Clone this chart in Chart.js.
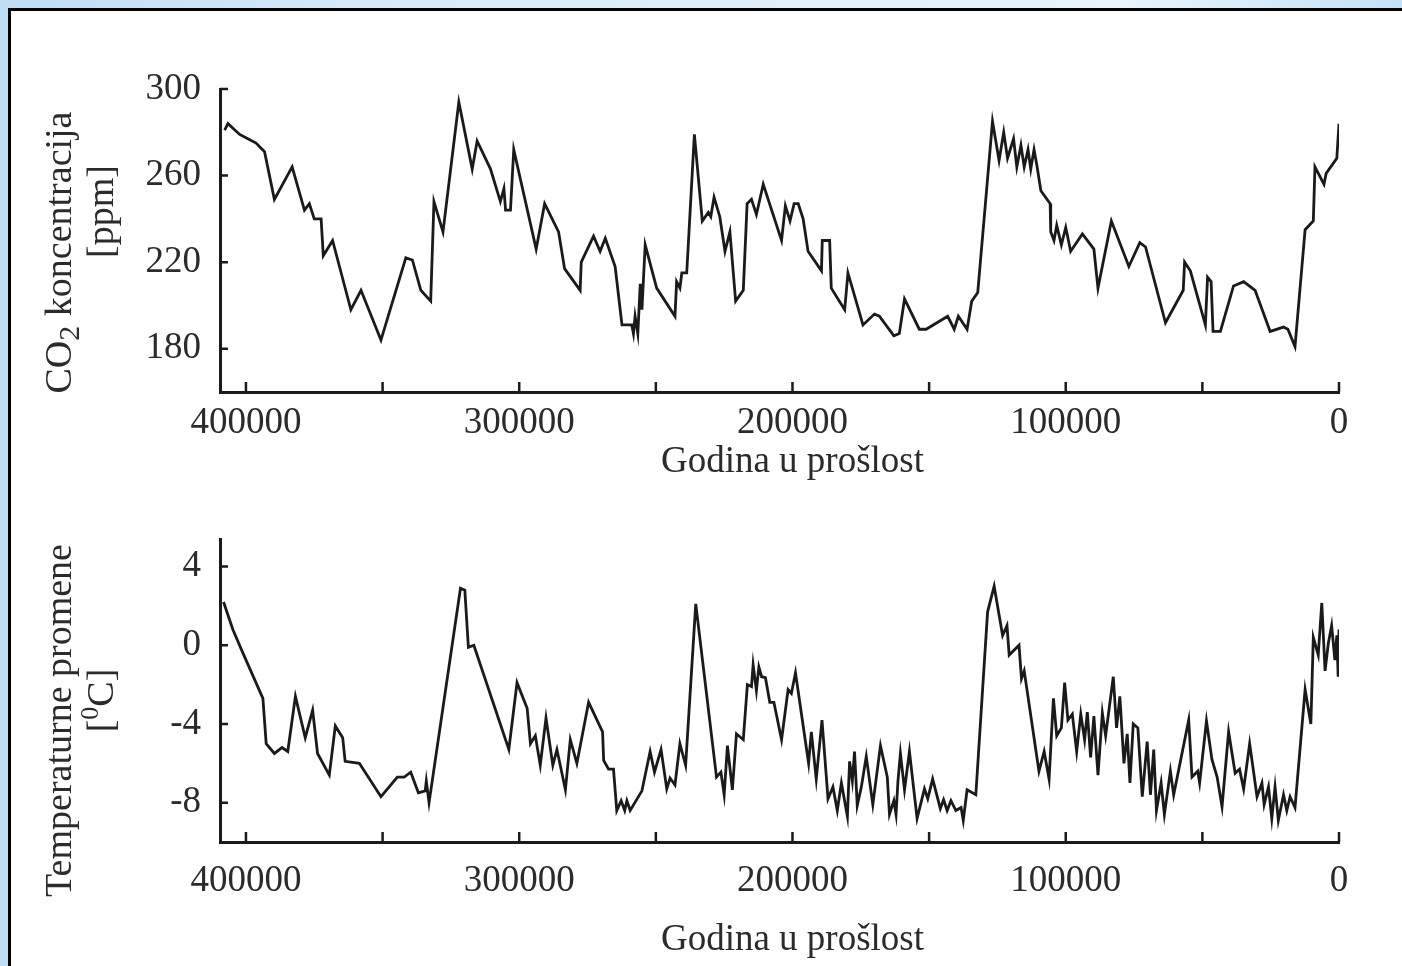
<!DOCTYPE html>
<html lang="sr">

<head>
    <meta charset="UTF-8">
    <title>CO2 koncentracija i temperaturne promene</title>
    <style>
        html,
        body {
            margin: 0;
            padding: 0;
        }

        body {
            width: 1402px;
            height: 966px;
            overflow: hidden;
            position: relative;
            background: linear-gradient(90deg, #bfdcf5 0%, #d6eaf9 25%, #e9f4fc 80%, #c4e1f7 100%);
        }

        .frame {
            position: absolute;
            left: 8px;
            top: 8px;
            width: 1420px;
            height: 980px;
            background: #fff;
            border-top: 3px solid #000;
            border-left: 3px solid #000;
        }

        canvas {
            position: absolute;
            left: 0;
        }

        #co2-chart {
            top: 0;
        }

        #temp-chart {
            top: 483px;
        }
    </style>
</head>

<body>
    <div class="frame"></div>
    <canvas id="co2-chart" width="1402" height="483"></canvas>
    <canvas id="temp-chart" width="1402" height="483"></canvas>
    <script src="https://cdn.jsdelivr.net/npm/chart.js"></script>
    <script>
        // years before present
        const co2Years = [407800, 406600, 402300, 399300, 396300, 393200, 389600, 383100, 378600, 376800,
            375000, 372500, 371700, 368300, 361600, 357900, 350600, 341500, 339100, 336000,
            332400, 331200, 327900, 322100, 317200, 315400, 310500, 306900, 305600, 305000,
            303200, 302000, 293800, 290700, 285600, 283400, 277700, 277300, 272800, 270400,
            268500, 264900, 262400, 258800, 258200, 257600, 256600, 255700, 255100, 253900,
            249700, 243000, 242400, 241200, 240500, 238700, 235900, 233000, 230800, 229900,
            228700, 226600, 224700, 222900, 220800, 218000, 216600, 215000, 213200, 210700,
            204000, 202600, 200900, 199400, 197900, 196100, 194300, 189400, 189100, 186400,
            185800, 180900, 179700, 174200, 170000, 168200, 162900, 160900, 159000, 153600,
            151100, 143200, 140800, 139300, 136100, 134400, 132200, 126800, 124400, 122700,
            121300, 119100, 117900, 116400, 115200, 113800, 112800, 111600, 110600, 109100,
            105700, 105500, 104300, 103300, 101600, 100000, 98200, 93900, 89700, 88200,
            83300, 76900, 72900, 70800, 63500, 57000, 56500, 54400, 48900, 48100,
            46800, 46100, 43400, 38600, 34900, 30700, 25200, 20300, 18700, 16100,
            12400, 9400, 8800, 5500, 4700, 800, 0];
        const co2Values = [281, 284, 279, 277, 275, 271, 249, 264, 244, 247,
            240, 240, 223, 230, 198, 207, 184, 222, 221, 207,
            202, 248, 234, 294, 263, 276, 263, 248, 254, 244,
            244, 272, 226, 247, 234, 217, 207, 220, 232, 225,
            231, 218, 191, 191, 187, 195, 187, 210, 198, 228,
            208, 195, 211, 208, 215, 215, 279, 239, 243, 241,
            250, 241, 225, 234, 202, 207, 247, 249, 242, 256,
            230, 246, 239, 247, 247, 240, 225, 216, 230, 230,
            208, 198, 215, 191, 196, 195, 186, 187, 203, 189,
            189, 195, 189, 195, 189, 202, 206, 285, 267, 280,
            268, 277, 264, 274, 264, 272, 263, 272, 265, 253,
            247, 234, 230, 237, 228, 236, 225, 233, 226, 208,
            239, 218, 229, 227, 192, 207, 220, 216, 191, 213,
            211, 188, 188, 209, 211, 207, 188, 190, 189, 181,
            235, 239, 264, 256, 261, 268, 284];

        const tempYears = [408200, 404800, 401100, 393800, 392600, 389600, 386800, 384700, 381900, 378300,
            375600, 373800, 369500, 367300, 364600, 363700, 358500, 350600, 344600, 342100,
            339700, 336900, 334400, 334000, 333000, 321500, 319900, 318600, 316600, 303800,
            300800, 297100, 295900, 294100, 292300, 290200, 287700, 286200, 283100, 281300,
            278900, 274600, 269500, 269100, 267300, 265500, 264300, 262700, 261400, 260600,
            259400, 255100, 252100, 250500, 248100, 246000, 244800, 243000, 241200, 239100,
            235400, 227800, 226200, 225000, 223800, 222000, 220500, 218000, 216500, 215000,
            214400, 213200, 212300, 211300, 209900, 208300, 206800, 204000, 201600, 200400,
            198900, 194100, 193100, 191300, 189200, 187000, 185200, 183600, 182100, 179900,
            179100, 178100, 177300, 176300, 174800, 173000, 170600, 167800, 165300, 164500,
            162900, 162100, 161400, 160500, 159000, 157200, 154400, 151700, 150500, 148700,
            145900, 144700, 143400, 142000, 140200, 138300, 137500, 136100, 132900, 128600,
            126200, 123100, 121500, 120700, 117100, 116200, 115200, 109800, 107900, 106100,
            104500, 103300, 101600, 100400, 99200, 97600, 96000, 94500, 93100, 92100,
            90900, 89700, 88200, 86600, 85400, 82600, 81400, 80200, 78700, 77500,
            76500, 75300, 73600, 72000, 70200, 69000, 67800, 66800, 65100, 63900,
            61700, 60500, 55000, 53800, 51700, 51000, 48500, 46500, 44600, 42800,
            40400, 38000, 36400, 34900, 32700, 30000, 28200, 27400, 25800, 24600,
            23400, 22200, 20300, 19100, 17900, 16100, 12400, 10300, 9400, 7600,
            6300, 5100, 3900, 2700, 1500, 800, 300, 0];
        const tempValues = [2.2, 0.8, -0.4, -2.7, -5.0, -5.5, -5.2, -5.4, -2.6, -4.7,
            -3.3, -5.5, -6.6, -4.1, -4.7, -5.9, -6.0, -7.7, -6.7, -6.7,
            -6.45, -7.5, -7.4, -6.9, -8.0, 2.9, 2.8, -0.1, 0.0, -5.3,
            -1.9, -3.2, -5.0, -4.6, -6.1, -3.7, -6.1, -5.3, -7.35, -4.8,
            -6.0, -2.9, -4.4, -5.85, -6.3, -6.3, -8.4, -7.9, -8.4, -7.9,
            -8.4, -7.4, -5.4, -6.45, -5.3, -7.3, -6.75, -7.1, -5.0, -6.1,
            2.1, -6.7, -6.45, -7.6, -5.1, -7.35, -4.5, -4.8, -2.0, -2.1,
            -1.0, -2.3, -1.1, -1.6, -1.65, -2.9, -2.9, -4.8, -2.25, -2.45,
            -1.4, -6.0, -4.4, -6.8, -3.8, -7.8, -7.2, -8.4, -7.0, -8.7,
            -5.9, -6.9, -5.4, -8.15, -7.2, -5.65, -8.1, -5.1, -6.7, -8.6,
            -7.9, -8.6, -6.9, -5.5, -7.35, -5.4, -8.8, -7.3, -7.8, -6.8,
            -8.3, -7.85, -8.4, -7.9, -8.4, -8.25, -8.9, -7.35, -7.6, 1.7,
            3.0, 0.5, 1.0, -0.5, 0.0, -1.7, -1.3, -6.4, -5.4, -6.8,
            -2.7, -4.6, -4.2, -1.9, -3.8, -3.5, -5.4, -3.5, -4.8, -3.4,
            -5.7, -3.6, -6.6, -3.45, -4.6, -1.6, -4.2, -2.6, -6.0, -4.5,
            -7.0, -4.0, -4.2, -7.7, -4.9, -7.6, -5.3, -8.4, -7.0, -8.6,
            -6.4, -7.6, -3.8, -6.7, -6.4, -7.0, -3.85, -5.8, -6.7, -8.2,
            -4.4, -6.5, -6.3, -7.3, -5.0, -7.7, -7.0, -8.1, -7.2, -8.8,
            -7.2, -8.9, -7.6, -8.4, -7.7, -8.25, -2.25, -4.0, 0.4, -0.5,
            2.15, -1.3, 0.1, 1.0, -0.75, 0.5, -1.6, 0.8];

        // tick positions
        const xTicks = [400000, 350000, 300000, 250000, 200000, 150000, 100000, 50000, 0];
        const xLabelEvery = 100000;
        const co2Ticks = [180, 220, 260, 300];
        const tempTicks = [-8, -4, 0, 4];

        const xTitle = 'Godina u prošlost';

        const fontFamily = '"Liberation Serif", "Times New Roman", serif';
        const ink = '#1a1a1a';
        const textColor = '#2b2b2b';

        function drawRuns(ctx, runs, cx, cy, rotated) {
            let total = 0;
            runs.forEach(r => {
                ctx.font = r.size + 'px ' + fontFamily;
                r.w = ctx.measureText(r.text).width;
                total += r.w;
            });
            ctx.save();
            ctx.translate(cx, cy);
            if (rotated) ctx.rotate(-Math.PI / 2);
            let x0 = -total / 2;
            runs.forEach(r => {
                ctx.font = r.size + 'px ' + fontFamily;
                ctx.fillText(r.text, x0, r.dy || 0);
                x0 += r.w;
            });
            ctx.restore();
        }

        // inward tick marks + axis titles
        const axisDecor = {
            id: 'axisDecor',
            afterDraw(chart, args, opts) {
                const { ctx, chartArea: a, scales: { x, y } } = chart;
                ctx.save();
                ctx.strokeStyle = ink;
                ctx.lineWidth = 2.5;
                ctx.beginPath();
                x.ticks.forEach(t => {
                    const px = x.getPixelForValue(t.value);
                    ctx.moveTo(px, a.bottom);
                    ctx.lineTo(px, a.bottom - 10);
                });
                y.ticks.forEach(t => {
                    const py = y.getPixelForValue(t.value);
                    ctx.moveTo(a.left, py);
                    ctx.lineTo(a.left + 8, py);
                });
                ctx.stroke();

                ctx.fillStyle = textColor;
                ctx.textAlign = 'left';
                ctx.textBaseline = 'alphabetic';
                const mid = (a.top + a.bottom) / 2;
                opts.yLines.forEach(line => {
                    drawRuns(ctx, line.runs, line.baseX, mid + line.shift, true);
                });
                drawRuns(ctx, [{ text: xTitle, size: 37 }],
                    x.getPixelForValue(opts.xTitleAt), a.bottom + opts.xTitleDrop, false);
                ctx.restore();
            }
        };

        function makeChart(id, years, values, yMin, yMax, yTicks, cfg) {
            const points = years.map((yr, i) => ({ x: yr, y: values[i] }));
            return new Chart(document.getElementById(id), {
                type: 'line',
                data: {
                    datasets: [{
                        data: points,
                        borderColor: ink,
                        borderWidth: 2.8,
                        pointRadius: 0,
                        tension: 0,
                        fill: false
                    }]
                },
                options: {
                    responsive: false,
                    animation: false,
                    events: [],
                    layout: { padding: { top: cfg.padTop, right: 63, left: 0, bottom: 0 } },
                    plugins: {
                        legend: { display: false },
                        tooltip: { enabled: false },
                        axisDecor: { yLines: cfg.yLines, xTitleAt: 200000, xTitleDrop: cfg.xTitleDrop }
                    },
                    scales: {
                        x: {
                            type: 'linear',
                            reverse: true,
                            min: 0,
                            max: 409500,
                            grid: { display: false },
                            border: { display: true, color: ink, width: 3 },
                            afterBuildTicks: axis => { axis.ticks = xTicks.map(v => ({ value: v })); },
                            afterFit: axis => { axis.height = cfg.xAxisHeight; },
                            ticks: {
                                autoSkip: false,
                                maxRotation: 0,
                                padding: cfg.xLabelPad,
                                color: textColor,
                                font: { family: fontFamily, size: 37, lineHeight: 1.2 },
                                callback: v => (v % xLabelEvery === 0 ? String(v) : '')
                            }
                        },
                        y: {
                            min: yMin,
                            max: yMax,
                            grid: { display: false },
                            border: { display: true, color: ink, width: 3 },
                            afterBuildTicks: axis => { axis.ticks = yTicks.map(v => ({ value: v })); },
                            afterFit: axis => { axis.width = 220; },
                            ticks: {
                                padding: 11,
                                color: textColor,
                                font: { family: fontFamily, size: 37, lineHeight: 1.2 },
                                callback: v => String(v)
                            }
                        }
                    }
                },
                plugins: [axisDecor]
            });
        }

        makeChart('co2-chart', co2Years, co2Values, 160, 300, co2Ticks, {
            padTop: 89,
            xAxisHeight: 91,
            xLabelPad: 1,
            xTitleDrop: 80,
            yLines: [
                {
                    baseX: 71, shift: 12, runs: [
                        { text: 'CO', size: 38 },
                        { text: '2', size: 30, dy: 8 },
                        { text: ' koncentracija', size: 38 }
                    ]
                },
                { baseX: 113, shift: -29, runs: [{ text: '[ppm]', size: 38 }] }
            ]
        });

        makeChart('temp-chart', tempYears, tempValues, -10, 5.4, tempTicks, {
            padTop: 56,
            xAxisHeight: 124,
            xLabelPad: 9,
            xTitleDrop: 108,
            yLines: [
                { baseX: 71, shift: 30, runs: [{ text: 'Temperaturne promene', size: 38 }] },
                {
                    baseX: 113, shift: 10, runs: [
                        { text: '[', size: 38 },
                        { text: '0', size: 26, dy: -15 },
                        { text: 'C]', size: 38 }
                    ]
                }
            ]
        });
    </script>
</body>

</html>
